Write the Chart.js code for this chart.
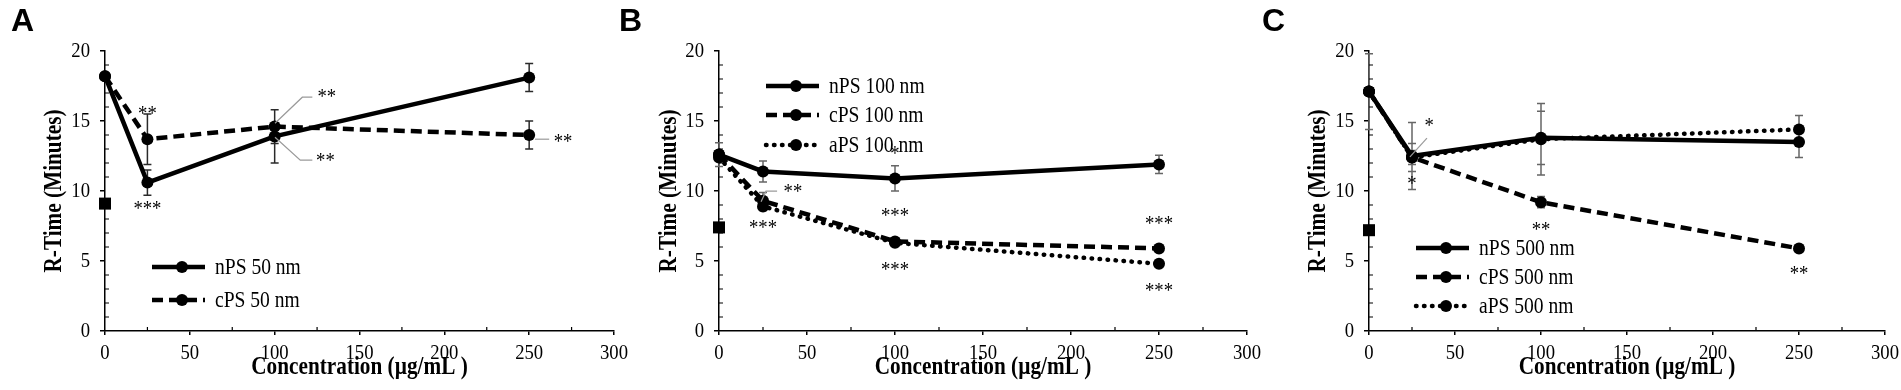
<!DOCTYPE html>
<html lang="en">
<head>
<meta charset="UTF-8" />
<title>R-Time vs concentration</title>
<script src="https://cdn.jsdelivr.net/npm/chart.js@4.4.1/dist/chart.umd.min.js"></script>
<style>
  html, body { margin: 0; padding: 0; background: #fff; overflow: hidden; }
  .fig { position: relative; width: 1901px; height: 390px; }
  .fig canvas { position: absolute; top: 0; }
  .tag { position: absolute; top: 2px; line-height: 1; font: bold 32px 'Liberation Sans', Arial, sans-serif; }
</style>
</head>
<body>
<div class="fig">
  <canvas id="chartA" width="640" height="390" style="left:0"></canvas>
  <canvas id="chartB" width="630" height="390" style="left:640px"></canvas>
  <canvas id="chartC" width="631" height="390" style="left:1270px"></canvas>
  <div class="tag" style="left:11px">A</div>
  <div class="tag" style="left:619px">B</div>
  <div class="tag" style="left:1262px">C</div>
</div>

<script>
  //data
  const concentration = [0, 25, 100, 250];
  const xTicks = [0, 50, 100, 150, 200, 250, 300];
  const yTicks = [0, 5, 10, 15, 20];
  const xTitle = 'Concentration (µg/mL )';
  const yTitle = 'R-Time (Minutes)';

  // A - 50 nm
  const nPS50 = [18.2, 10.6, 13.9, 18.1];
  const nPS50Err = [0, 0.9, 1.9, 1.0];
  const cPS50 = [18.2, 13.7, 14.6, 14.0];
  const cPS50Err = [0, 1.8, 1.2, 1.0];
  const controlA = [9.1];
  const starsA = [[25, 15.8, '**'], [25, 9.0, '***'], [130.7, 17.0, '**'], [129.9, 12.4, '**'], [270, 13.8, '**']];
  const leadersA = [
    [[100.2, 14.84], [116.3, 16.7], [122.2, 16.7]],
    [[100.2, 13.84], [115.1, 12.2], [122.2, 12.2]],
    [[253.4, 13.7], [261.8, 13.7]]
  ];

  // B - 100 nm
  const nPS100 = [12.6, 11.4, 10.9, 11.9];
  const nPS100Err = [0.85, 0.75, 0.9, 0.65];
  const cPS100 = [12.6, 9.3, 6.4, 5.9];
  const cPS100Err = [0, 0.6, 0.25, 0.2];
  const aPS100 = [12.4, 8.9, 6.3, 4.8];
  const aPS100Err = [0, 0.3, 0.25, 0.2];
  const controlB = [7.4];
  const starsB = [[42, 10.2, '**'], [25, 7.6, '***'], [100, 12.9, '*'], [100, 8.5, '***'], [100, 4.6, '***'], [250, 7.9, '***'], [250, 3.1, '***']];
  const leadersB = [[[23.9, 9.23], [26.7, 9.99], [33.0, 9.99]]];

  // C - 500 nm
  const nPS500 = [17.1, 12.5, 13.8, 13.5];
  const nPS500Err = [2.7, 2.4, 1.9, 1.1];
  const cPS500 = [17.1, 12.4, 9.2, 5.9];
  const cPS500Err = [0, 1.0, 0.4, 0.25];
  const aPS500 = [17.1, 12.4, 13.7, 14.4];
  const aPS500Err = [0, 0.5, 2.55, 1.0];
  const controlC = [7.2];
  const starsC = [[35, 14.9, '*'], [25, 10.8, '*'], [100, 7.5, '**'], [250, 4.35, '**']];
  const leadersC = [[[23.8, 12.44], [33.7, 13.77]]];

  //styles
  const serif = "'Liberation Serif', 'Times New Roman', serif";
  const NARROW = 0.85; // the figure's Times text is drawn a bit condensed
  Chart.defaults.font.family = serif;
  Chart.defaults.color = '#000';

  const lineKinds = {
    n: { borderDash: [] },
    c: { borderDash: [11, 6] },
    a: { borderDash: [0.5, 7.5], borderCapStyle: 'round' }
  };

  function series(label, ys, errs, kind) {
    return Object.assign({
      label: label,
      data: concentration.map((x, i) => ({ x: x, y: ys[i] })),
      errors: errs,
      inLegend: true,
      borderColor: '#000',
      backgroundColor: '#000',
      borderWidth: 4.5,
      pointRadius: 6,
      pointHoverRadius: 6,
      pointBorderWidth: 0,
      tension: 0,
      clip: false
    }, lineKinds[kind]);
  }

  function control(ys) {
    return {
      label: 'control',
      data: [{ x: 0, y: ys[0] }],
      showLine: false,
      pointStyle: 'rect',
      pointRadius: 8.5,
      pointHoverRadius: 8.5,
      pointBorderWidth: 0,
      backgroundColor: '#000',
      borderColor: '#000',
      clip: false
    };
  }

  // text squeezed horizontally (along its writing direction)
  function narrowText(ctx, text, x, y, font, align, rot) {
    ctx.save();
    ctx.translate(x, y);
    if (rot) ctx.rotate(rot);
    ctx.scale(NARROW, 1);
    ctx.font = font;
    ctx.fillStyle = '#000';
    ctx.textAlign = align || 'center';
    ctx.textBaseline = 'middle';
    ctx.fillText(text, 0, 0);
    ctx.restore();
  }

  //plugins
  const errorBars = {
    id: 'errorBars',
    beforeDatasetsDraw(chart, args, o) {
      const { x, y } = chart.scales;
      const ctx = chart.ctx;
      ctx.save();
      ctx.strokeStyle = o.color;
      ctx.lineWidth = 1.5;
      ctx.beginPath();
      chart.data.datasets.forEach((ds) => {
        if (!ds.errors) return;
        ds.data.forEach((p, i) => {
          const e = ds.errors[i];
          if (!e) return;
          const px = x.getPixelForValue(p.x);
          const top = y.getPixelForValue(p.y + e);
          const bot = y.getPixelForValue(p.y - e);
          ctx.moveTo(px, top); ctx.lineTo(px, bot);
          ctx.moveTo(px - 4, top); ctx.lineTo(px + 4, top);
          ctx.moveTo(px - 4, bot); ctx.lineTo(px + 4, bot);
        });
      });
      ctx.stroke();
      ctx.restore();
    }
  };

  const stars = {
    id: 'stars',
    afterDatasetsDraw(chart, args, o) {
      const { x, y } = chart.scales;
      const ctx = chart.ctx;
      ctx.save();
      ctx.strokeStyle = '#9a9a9a';
      ctx.lineWidth = 1.2;
      o.leaders.forEach((path) => {
        ctx.beginPath();
        path.forEach((pt, i) => {
          const px = x.getPixelForValue(pt[0]), py = y.getPixelForValue(pt[1]);
          if (i) ctx.lineTo(px, py); else ctx.moveTo(px, py);
        });
        ctx.stroke();
      });
      ctx.restore();
      // asterisk glyphs sit high in the em box, shift them down to centre on the value
      o.items.forEach((s) => {
        narrowText(ctx, s[2], x.getPixelForValue(s[0]), y.getPixelForValue(s[1]) + 4, '22px ' + serif);
      });
    }
  };

  const lineLegend = {
    id: 'lineLegend',
    afterDraw(chart, args, o) {
      const ctx = chart.ctx;
      const L = chart.chartArea.left;
      let row = 0;
      chart.data.datasets.forEach((ds) => {
        if (!ds.inLegend) return;
        const y = o.rows[row++];
        ctx.save();
        ctx.strokeStyle = '#000';
        ctx.lineWidth = 4.5;
        ctx.setLineDash(ds.borderDash || []);
        ctx.lineCap = ds.borderCapStyle || 'butt';
        ctx.beginPath();
        ctx.moveTo(L + o.x0, y);
        ctx.lineTo(L + o.x1, y);
        ctx.stroke();
        ctx.setLineDash([]);
        ctx.fillStyle = '#000';
        ctx.beginPath();
        ctx.arc(L + (o.x0 + o.x1) / 2 + 3.5, y, 6, 0, Math.PI * 2);
        ctx.fill();
        ctx.restore();
        narrowText(ctx, ds.label, L + o.textX, y + 1, '23px ' + serif, 'left');
      });
    }
  };

  const axisText = {
    id: 'axisText',
    afterDraw(chart, args, o) {
      const { x, y } = chart.scales;
      const a = chart.chartArea;
      const ctx = chart.ctx;
      const tickFont = '22px ' + serif;
      const titleFont = 'bold 25px ' + serif;
      xTicks.forEach((v) => narrowText(ctx, String(v), x.getPixelForValue(v), a.bottom + 22, tickFont));
      yTicks.forEach((v) => narrowText(ctx, String(v), a.left - 15, y.getPixelForValue(v), tickFont, 'right'));
      narrowText(ctx, xTitle, (a.left + a.right) / 2, 368, titleFont);
      narrowText(ctx, yTitle, o.yTitleX, (a.top + a.bottom) / 2, titleFont, 'center', -Math.PI / 2);
    }
  };

  const minorTicks = {
    id: 'minorTicks',
    afterDraw(chart) {
      const { x, y } = chart.scales;
      const a = chart.chartArea;
      const ctx = chart.ctx;
      ctx.save();
      ctx.strokeStyle = '#000';
      ctx.lineWidth = 1.2;
      ctx.beginPath();
      for (let v = 25; v < 300; v += 50) {
        const px = x.getPixelForValue(v);
        ctx.moveTo(px, a.bottom); ctx.lineTo(px, a.bottom - 4);
      }
      for (let v = 1; v < 20; v++) {
        if (v % 5 === 0) continue;
        const py = y.getPixelForValue(v);
        ctx.moveTo(a.left, py); ctx.lineTo(a.left + 4, py);
      }
      ctx.stroke();
      ctx.restore();
    }
  };

  //config
  function makeChart(id, cfg) {
    return new Chart(document.getElementById(id), {
      type: 'line',
      data: { datasets: cfg.datasets },
      options: {
        responsive: false,
        animation: false,
        events: [],
        layout: { padding: { left: 0, right: cfg.padRight, top: 51, bottom: 0 } },
        plugins: {
          legend: { display: false },
          tooltip: { enabled: false },
          errorBars: { color: cfg.errColor },
          stars: { items: cfg.stars, leaders: cfg.leaders },
          lineLegend: { x0: 47, x1: 100, textX: 110, rows: cfg.legendRows },
          axisText: { yTitleX: cfg.yTitleX }
        },
        scales: {
          x: {
            type: 'linear',
            min: 0,
            max: 300,
            afterBuildTicks: (s) => { s.ticks = xTicks.map((v) => ({ value: v })); },
            afterFit: (s) => { s.height = 59; },
            border: { color: '#000', width: 1.5 },
            grid: { drawOnChartArea: false, tickLength: 4, color: '#000', lineWidth: 1.5 },
            ticks: { display: false }
          },
          y: {
            min: 0,
            max: 20,
            afterBuildTicks: (s) => { s.ticks = yTicks.map((v) => ({ value: v })); },
            afterFit: (s) => { s.width = cfg.axisLeft; },
            border: { color: '#000', width: 1.5 },
            grid: { drawOnChartArea: false, tickLength: 5, color: '#000', lineWidth: 1.5 },
            ticks: { display: false }
          }
        }
      },
      plugins: [errorBars, stars, lineLegend, axisText, minorTicks]
    });
  }

  //init
  makeChart('chartA', {
    axisLeft: 105, padRight: 26, yTitleX: 55, errColor: '#2a2a2a',
    legendRows: [267, 300], stars: starsA, leaders: leadersA,
    datasets: [
      series('nPS 50 nm', nPS50, nPS50Err, 'n'),
      series('cPS 50 nm', cPS50, cPS50Err, 'c'),
      control(controlA)
    ]
  });

  makeChart('chartB', {
    axisLeft: 79, padRight: 23, yTitleX: 30, errColor: '#666',
    legendRows: [86, 115, 145], stars: starsB, leaders: leadersB,
    datasets: [
      series('nPS 100 nm', nPS100, nPS100Err, 'n'),
      series('cPS 100 nm', cPS100, cPS100Err, 'c'),
      series('aPS 100 nm', aPS100, aPS100Err, 'a'),
      control(controlB)
    ]
  });

  makeChart('chartC', {
    axisLeft: 99, padRight: 16, yTitleX: 49, errColor: '#666',
    legendRows: [248, 277, 306], stars: starsC, leaders: leadersC,
    datasets: [
      series('nPS 500 nm', nPS500, nPS500Err, 'n'),
      series('cPS 500 nm', cPS500, cPS500Err, 'c'),
      series('aPS 500 nm', aPS500, aPS500Err, 'a'),
      control(controlC)
    ]
  });
</script>
</body>
</html>
